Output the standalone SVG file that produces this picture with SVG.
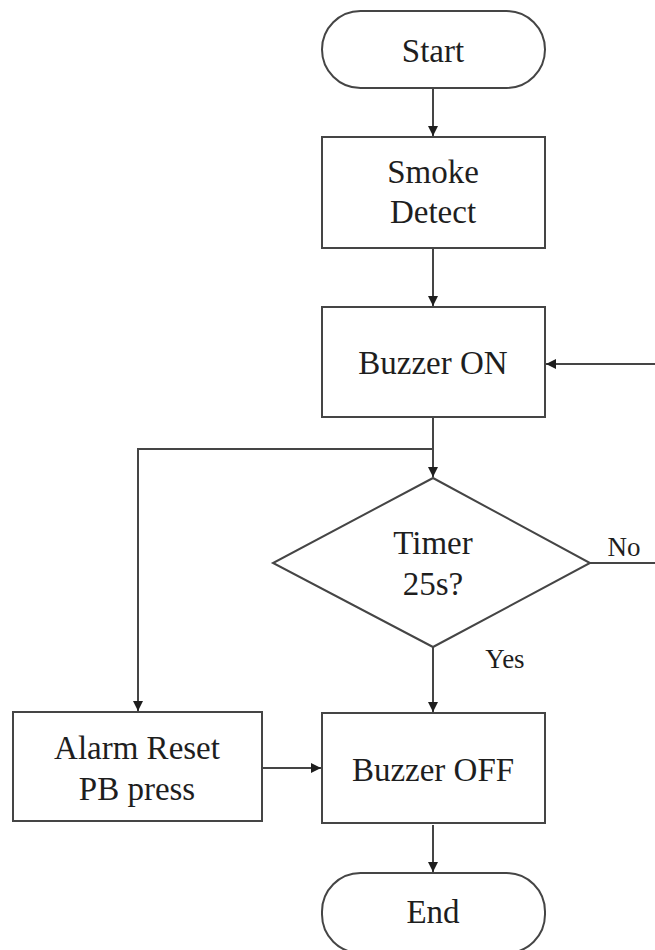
<svg xmlns="http://www.w3.org/2000/svg" width="655" height="950" viewBox="0 0 655 950">
<style>
.shape{fill:#ffffff;stroke:#454545;stroke-width:2}
.conn{fill:none;stroke:#454545;stroke-width:2}
.t{font-family:"Liberation Serif","Times New Roman",serif;font-size:33px;fill:#1e1e1e;text-anchor:middle}
.s{font-family:"Liberation Serif","Times New Roman",serif;font-size:27px;fill:#1e1e1e;text-anchor:middle}
</style>
<defs>
<marker id="ah" viewBox="0 0 10 10" refX="10" refY="5" markerWidth="10" markerHeight="10" markerUnits="userSpaceOnUse" orient="auto">
<path d="M0,0 L10,5 L0,10 z" fill="#1e1e1e"/>
</marker>
</defs>
<rect width="655" height="950" fill="#ffffff"/>
<g id="connectors">
<line class="conn" x1="433" y1="88" x2="433" y2="136" marker-end="url(#ah)"/>
<line class="conn" x1="433" y1="248" x2="433" y2="306" marker-end="url(#ah)"/>
<line class="conn" x1="433" y1="417" x2="433" y2="477" marker-end="url(#ah)"/>
<polyline class="conn" points="433,449 138,449 138,711" marker-end="url(#ah)"/>
<polyline class="conn" points="590,563 655,563"/>
<line class="conn" x1="655" y1="364" x2="546" y2="364" marker-end="url(#ah)"/>
<line class="conn" x1="433" y1="647" x2="433" y2="712" marker-end="url(#ah)"/>
<line class="conn" x1="262" y1="768" x2="321" y2="768" marker-end="url(#ah)"/>
<line class="conn" x1="433" y1="825" x2="433" y2="872" marker-end="url(#ah)"/>
<text class="s" x="624" y="556">No</text>
<text class="s" x="505" y="668">Yes</text>
</g>
<g id="start">
<rect class="shape" x="322" y="11" width="223" height="77" rx="38.5" ry="38.5"/>
<text class="t" x="433" y="62">Start</text>
</g>
<g id="smoke">
<rect class="shape" x="322" y="137" width="223" height="111"/>
<text class="t" x="433" y="183">Smoke</text>
<text class="t" x="433" y="223">Detect</text>
</g>
<g id="buzzer-on">
<rect class="shape" x="322" y="307" width="223" height="110"/>
<text class="t" x="433" y="374">Buzzer ON</text>
</g>
<g id="timer">
<polygon class="shape" points="433,478 590,563 433,647 273,563"/>
<text class="t" x="433" y="554">Timer</text>
<text class="t" x="433" y="595">25s?</text>
</g>
<g id="alarm-reset">
<rect class="shape" x="13" y="712" width="249" height="109"/>
<text class="t" x="137" y="759">Alarm Reset</text>
<text class="t" x="137" y="800">PB press</text>
</g>
<g id="buzzer-off">
<rect class="shape" x="322" y="713" width="223" height="110"/>
<text class="t" x="433" y="781">Buzzer OFF</text>
</g>
<g id="end">
<rect class="shape" x="322" y="873" width="223" height="80" rx="38.5" ry="38.5"/>
<text class="t" x="433" y="923">End</text>
</g>
</svg>
